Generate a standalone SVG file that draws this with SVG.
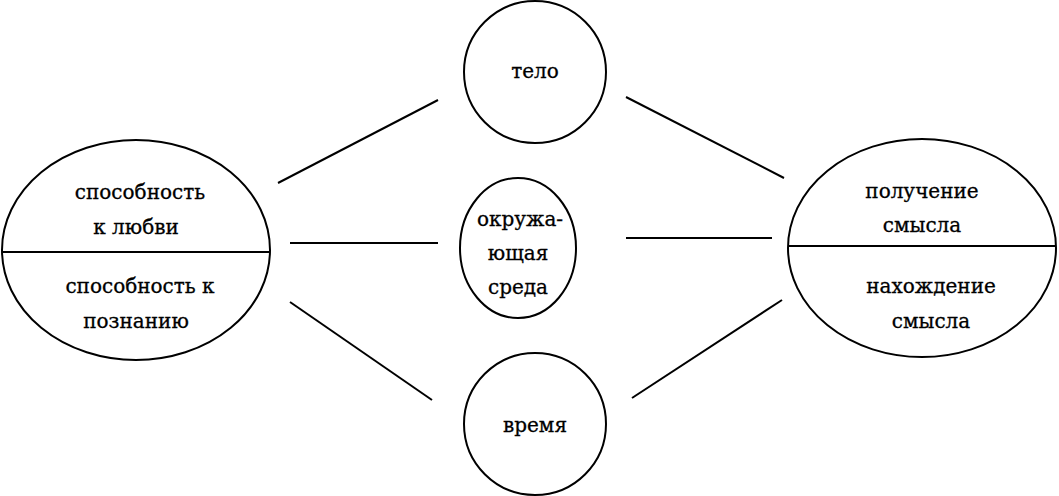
<svg xmlns="http://www.w3.org/2000/svg" width="1059" height="496" viewBox="0 0 1059 496">
<style>
.s{fill:none;stroke:#000;stroke-width:2}
text{font-family:"DejaVu Serif","Liberation Serif",serif;font-size:20px;text-anchor:middle;fill:#000;stroke:#000;stroke-width:0.3}
</style>
<rect width="1059" height="496" fill="#fff"/>
<g id="left"><ellipse class="s" cx="136" cy="250" rx="134" ry="110"/><line class="s" x1="2" y1="252" x2="270" y2="252"/>
<text x="140" y="199">способность</text><text x="136" y="234">к любви</text><text x="140" y="293">способность к</text><text x="136" y="328">познанию</text></g>
<g id="right"><ellipse class="s" cx="922" cy="248" rx="134" ry="109"/><line class="s" x1="788" y1="246" x2="1056" y2="246"/>
<text x="922" y="198">получение</text><text x="922" y="232">смысла</text><text x="931" y="293">нахождение</text><text x="931" y="328">смысла</text></g>
<g id="body"><circle class="s" cx="535" cy="72" r="71"/><text x="535" y="78">тело</text></g>
<g id="env"><ellipse class="s" cx="518" cy="248" rx="58" ry="70"/><text x="520" y="226">окружа-</text><text x="518" y="260">ющая</text><text x="518" y="294">среда</text></g>
<g id="time"><circle class="s" cx="535" cy="424" r="71"/><text x="535" y="432">время</text></g>
<g id="connectors">
<line class="s" x1="278" y1="183" x2="438" y2="100"/>
<line class="s" x1="290" y1="243" x2="438" y2="243"/>
<line class="s" x1="290" y1="302" x2="432" y2="400"/>
<line class="s" x1="626" y1="97" x2="784" y2="178"/>
<line class="s" x1="626" y1="238" x2="772" y2="238"/>
<line class="s" x1="632" y1="398" x2="782" y2="300"/>
</g>
</svg>
